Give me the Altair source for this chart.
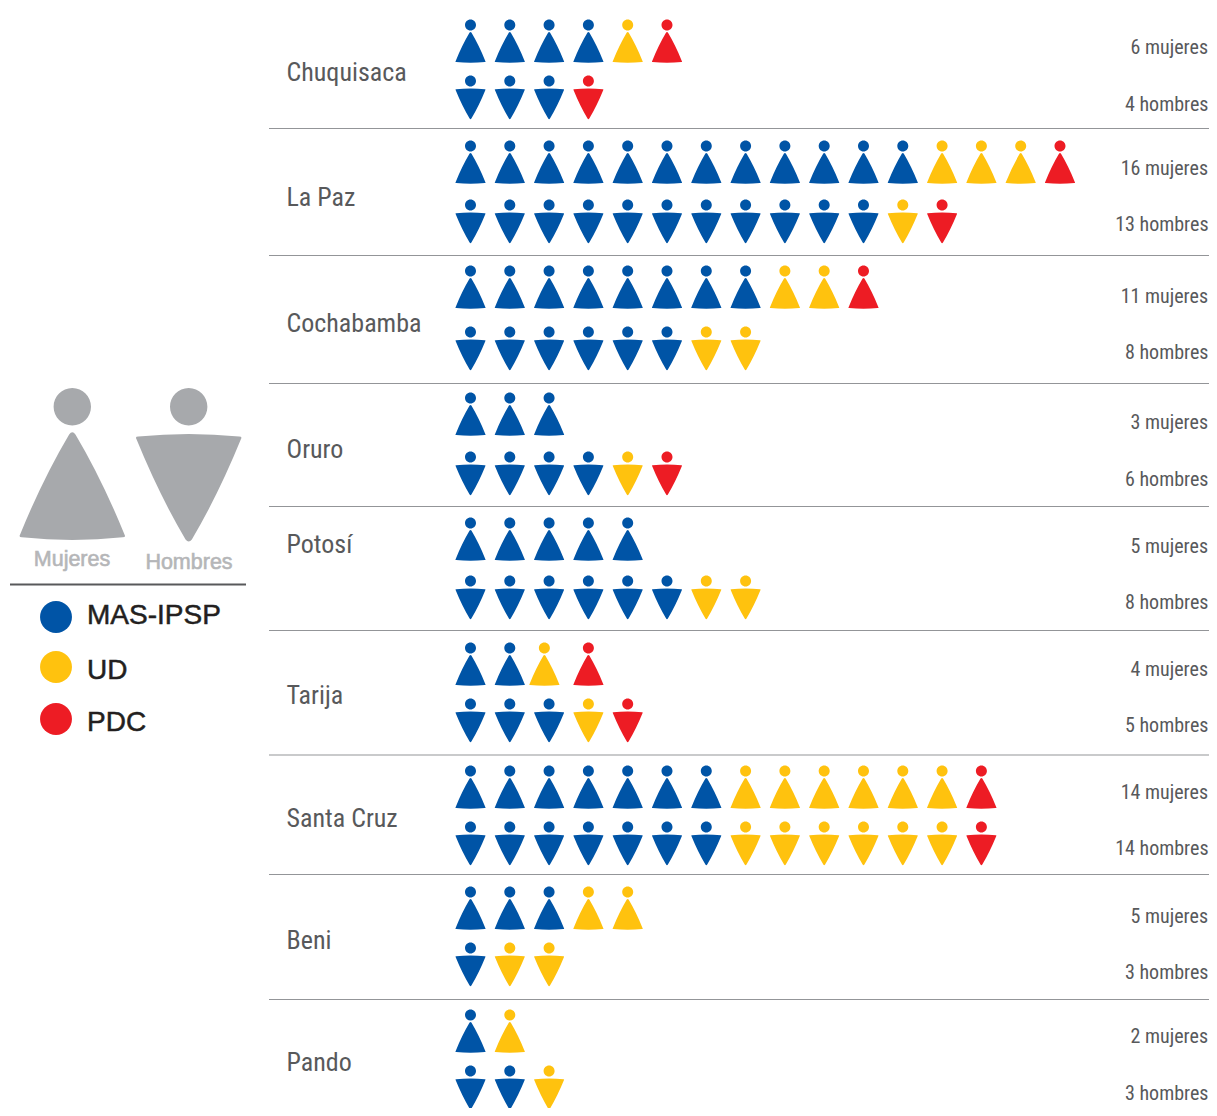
import altair as alt
import pandas as pd

# ---- values
regions = ["Chuquisaca", "La Paz", "Cochabamba", "Oruro", "Potosí", "Tarija", "Santa Cruz", "Beni", "Pando"]
parties = ["MAS-IPSP", "UD", "PDC"]
mujeres_mas = [4, 12, 8, 3, 5, 2, 7, 3, 1]
mujeres_ud = [1, 3, 2, 0, 0, 1, 6, 2, 1]
mujeres_pdc = [1, 1, 1, 0, 0, 1, 1, 0, 0]
hombres_mas = [3, 11, 6, 4, 6, 3, 7, 1, 2]
hombres_ud = [0, 1, 2, 1, 2, 1, 6, 2, 1]
hombres_pdc = [1, 1, 0, 1, 0, 1, 1, 0, 0]

# ---- layout (page pixels, the page margin is taken off below)
MARGIN = 8
W, H = 1201, 1100
head_m_y = [25, 146, 271, 398, 523, 648, 771, 892, 1015]
head_h_y = [81, 205, 332, 457, 581, 704, 827, 948, 1071]
count_m_y = [47, 168, 296, 422, 546, 669, 792, 916, 1036]
count_h_y = [104, 224, 352, 479, 602, 725, 848, 972, 1093]
label_y = [72, 197, 323, 449, 544, 695, 818, 940, 1062]
rule_y = [128.5, 255.5, 383.5, 506.5, 630.5, 755, 874.5, 999.5]
column_nudges = {("Tarija", "m", 2): -0.12}
colors = ["#0054a6", "#ffc20e", "#ed1c24"]
GREY, TEXT, LINE = "#a7a9ac", "#58595b", "#939598"
NARROW = "Roboto Condensed"
SANS = "Liberation Sans"


def person(width, r, gap, flip):
    """Head plus rounded body, in pixels around the head's centre (symbol size 4 = 1:1)."""
    s = -1 if flip else 1
    y0 = gap + (1.04 * width if flip else 0)

    def p(x, y):
        return f"{x * width:.2f},{y0 + s * y * width:.2f}"

    head = f"M{-r},0A{r},{r} 0 1,1 {r},0A{r},{r} 0 1,1 {-r},0Z"
    body = (
        f"M{p(-0.03, 0.02)}Q{p(0, -0.02)} {p(0.03, 0.02)}Q{p(0.28, 0.44)} {p(0.5, 0.98)}"
        f"Q{p(0.51, 1.0)} {p(0.48, 1.0)}Q{p(0, 1.05)} {p(-0.48, 1.0)}"
        f"Q{p(-0.51, 1.0)} {p(-0.5, 0.98)}Q{p(-0.28, 0.44)} {p(-0.03, 0.02)}Z"
    )
    return head + body


all_y = sorted(set(head_m_y + head_h_y + count_m_y + count_h_y + label_y + rule_y))
slot = {v: i for i, v in enumerate(all_y)}
y_scale = alt.Scale(domain=list(range(len(all_y))), range=[v - MARGIN for v in all_y], zero=False, nice=False)
x_scale = alt.Scale(domain=[0, 15], range=[470.5 - MARGIN, 1060 - MARGIN], zero=False, nice=False)
color_scale = alt.Scale(domain=parties, range=colors)

icons_m, icons_h, counts, names = [], [], [], []
for i, region in enumerate(regions):
    for key, rows, head_y, tallies in (
        ("m", icons_m, head_m_y, (mujeres_mas, mujeres_ud, mujeres_pdc)),
        ("h", icons_h, head_h_y, (hombres_mas, hombres_ud, hombres_pdc)),
    ):
        col = 0
        for party, tally in zip(parties, tallies):
            for _ in range(tally[i]):
                rows.append({
                    "region": region,
                    "col": col + column_nudges.get((region, key, col), 0),
                    "slot": slot[head_y[i]],
                    "party": party,
                })
                col += 1
    names.append({"region": region, "slot": slot[label_y[i]]})
    counts.append({
        "m": f"{mujeres_mas[i] + mujeres_ud[i] + mujeres_pdc[i]} mujeres",
        "h": f"{hombres_mas[i] + hombres_ud[i] + hombres_pdc[i]} hombres",
        "sm": slot[count_m_y[i]],
        "sh": slot[count_h_y[i]],
    })

X = alt.X("col:Q", scale=x_scale, axis=None)
Y = alt.Y("slot:Q", scale=y_scale, axis=None)
C = alt.Color("party:N", scale=color_scale, legend=None)


def icon_layer(rows, shape):
    return alt.Chart(pd.DataFrame(rows)).mark_point(
        shape=shape, size=4, filled=True, opacity=1, strokeWidth=0
    ).encode(x=X, y=Y, color=C)


seps = pd.DataFrame({"slot": [slot[v] for v in rule_y]})
sep_layer = alt.Chart(seps).mark_rule(color=LINE, strokeWidth=1.2).encode(
    x=alt.value(269 - MARGIN), x2=alt.value(W), y=alt.Y("slot:Q", scale=y_scale, axis=None)
)
name_layer = alt.Chart(pd.DataFrame(names)).mark_text(
    font=NARROW, fontSize=26, color=TEXT, align="left", baseline="middle", dy=1
).encode(x=alt.value(286.5 - MARGIN), y=Y, text="region:N")
cdf = pd.DataFrame(counts)
count_m = alt.Chart(cdf).mark_text(font=NARROW, fontSize=20, color=TEXT, align="right", baseline="middle", dy=1).encode(
    x=alt.value(1208 - MARGIN), y=alt.Y("sm:Q", scale=y_scale, axis=None), text="m:N"
)
count_h = alt.Chart(cdf).mark_text(font=NARROW, fontSize=20, color=TEXT, align="right", baseline="middle", dy=1).encode(
    x=alt.value(1208.5 - MARGIN), y=alt.Y("sh:Q", scale=y_scale, axis=None), text="h:N"
)


def at(px, py):
    return {"x": alt.value(px - MARGIN), "y": alt.value(py - MARGIN)}


one = pd.DataFrame({"k": [0]})
big_w = alt.Chart(one).mark_point(
    shape=person(105, 18.7, 25.6, False), size=4, filled=True, opacity=1, strokeWidth=0, color=GREY
).encode(**at(72.3, 406.7))
big_h = alt.Chart(one).mark_point(
    shape=person(105, 18.7, 25.6, True), size=4, filled=True, opacity=1, strokeWidth=0, color=GREY
).encode(**at(188.7, 406.7))


def label(text, px, py, **style):
    return alt.Chart(one).mark_text(text=text, baseline="middle", font=SANS, **style).encode(**at(px, py))


txt_kw = dict(fontSize=21.5, color="#b5b6b8", stroke="#b5b6b8", strokeWidth=0.6, align="center")
legend_rule = alt.Chart(one).mark_rule(color=TEXT, strokeWidth=2).encode(
    x=alt.value(10 - MARGIN), x2=alt.value(246 - MARGIN), y=alt.value(584.5 - MARGIN)
)
legend_y = [617, 667, 719]
legend_text_y = [616, 671, 723]
legend_layers = []
for party, col, dot_y, txt_y in zip(parties, colors, legend_y, legend_text_y):
    legend_layers.append(
        alt.Chart(one).mark_point(shape="circle", size=1018, filled=True, opacity=1, strokeWidth=0, color=col)
        .encode(**at(56, dot_y))
    )
    legend_layers.append(
        label(party, 87, txt_y, fontSize=28, color="#231f20", stroke="#231f20", strokeWidth=0.5, align="left")
    )

chart = alt.layer(
    sep_layer,
    name_layer,
    count_m,
    count_h,
    icon_layer(icons_m, person(30, 5.5, 7, False)),
    icon_layer(icons_h, person(30, 5.5, 7, True)),
    big_w,
    big_h,
    label("Mujeres", 72, 559.5, **txt_kw),
    label("Hombres", 189, 562.5, **txt_kw),
    legend_rule,
    *legend_layers,
).properties(width=W, height=H, padding=0, autosize=alt.AutoSizeParams(type="none")).configure_view(stroke=None)

chart.save("out.html", embed_options={"renderer": "svg", "actions": False})
